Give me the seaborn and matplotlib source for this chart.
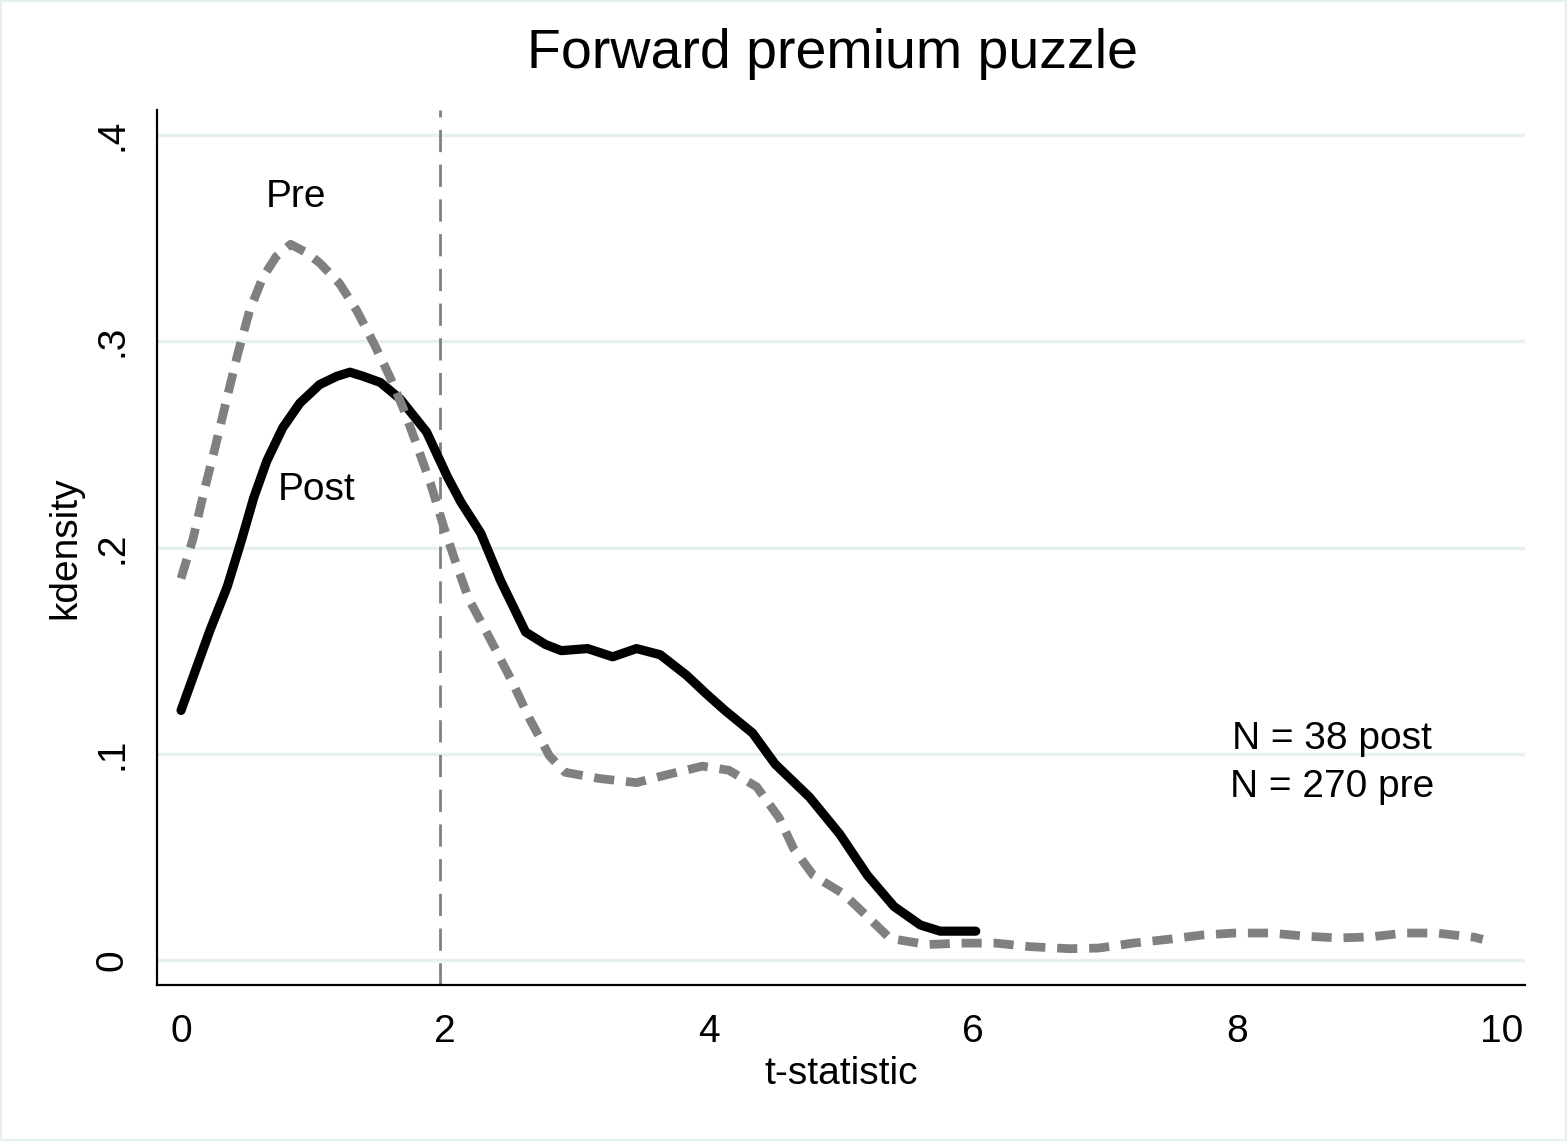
import matplotlib
matplotlib.use("Agg")
import matplotlib.pyplot as plt
import matplotlib.patches as mpatches
import numpy as np
import pandas as pd
import seaborn as sns

# Kernel density estimates of the t-statistic, post-sample (N = 38)
post_t = [0.00, 0.09, 0.22, 0.35, 0.46, 0.55, 0.65, 0.77, 0.90, 1.05, 1.18, 1.28,
          1.38, 1.51, 1.66, 1.86, 2.02, 2.12, 2.27, 2.42, 2.61, 2.76, 2.88, 3.08,
          3.27, 3.45, 3.63, 3.83, 3.98, 4.12, 4.33, 4.50, 4.76, 4.99, 5.20, 5.40,
          5.60, 5.75, 6.02]
post_density = [0.121, 0.137, 0.160, 0.181, 0.204, 0.224, 0.242, 0.258, 0.270, 0.279,
                0.283, 0.285, 0.283, 0.280, 0.272, 0.256, 0.234, 0.222, 0.207, 0.184,
                0.159, 0.153, 0.150, 0.151, 0.147, 0.151, 0.148, 0.138, 0.129, 0.121,
                0.110, 0.095, 0.079, 0.061, 0.041, 0.026, 0.017, 0.014, 0.014]

# Pre-sample (N = 270)
pre_t = [0.00, 0.09, 0.17, 0.26, 0.35, 0.43, 0.52, 0.62, 0.72, 0.83, 0.95, 1.05,
         1.20, 1.33, 1.46, 1.58, 1.68, 1.79, 1.89, 1.99, 2.09, 2.18, 2.33, 2.50,
         2.64, 2.79, 2.91, 3.17, 3.45, 3.69, 3.95, 4.15, 4.36, 4.53, 4.64, 4.79,
         5.02, 5.20, 5.37, 5.65, 5.91, 6.17, 6.43, 6.73, 6.95, 7.21, 7.47, 7.73,
         7.98, 8.25, 8.51, 8.77, 9.01, 9.27, 9.51, 9.80, 9.86]
pre_density = [0.185, 0.204, 0.226, 0.249, 0.273, 0.294, 0.315, 0.331, 0.341, 0.347,
               0.343, 0.338, 0.328, 0.315, 0.299, 0.283, 0.268, 0.249, 0.231, 0.210,
               0.191, 0.175, 0.157, 0.136, 0.117, 0.099, 0.091, 0.088, 0.086, 0.090,
               0.094, 0.092, 0.084, 0.069, 0.054, 0.041, 0.032, 0.021, 0.0105, 0.0075,
               0.0082, 0.0082, 0.0065, 0.0055, 0.0058, 0.0082, 0.0100, 0.0121, 0.0131,
               0.0131, 0.0116, 0.0107, 0.0112, 0.0131, 0.0131, 0.0110, 0.0100]

x_ticks = [0, 2, 4, 6, 8, 10]
y_ticks = [0, 0.1, 0.2, 0.3, 0.4]
y_tick_labels = ["0", ".1", ".2", ".3", ".4"]
critical_value = 1.96

post_df = pd.DataFrame({"t": post_t, "density": post_density})
pre_df = pd.DataFrame({"t": pre_t, "density": pre_density})

sns.set_theme(style="white")
plt.rcParams["font.family"] = ["Liberation Sans", "DejaVu Sans"]
plt.rcParams["text.color"] = "black"
plt.rcParams["axes.labelcolor"] = "black"
plt.rcParams["xtick.color"] = "black"
plt.rcParams["ytick.color"] = "black"

fig = plt.figure(figsize=(15.67, 11.41), dpi=100)
fig.patch.set_facecolor("white")
ax = fig.add_axes([157 / 1567, 1 - 985 / 1141, (1525 - 157) / 1567, (985 - 110) / 1141])
ax.set_facecolor("white")

grid_color = "#E6EFF1"
for yv in y_ticks:
    ax.axhline(yv, color=grid_color, lw=2.4, zorder=0.5)

ax.axvline(critical_value, color="#808080", lw=2.0,
           linestyle=(0, (8, 4.5)), zorder=1)

sns.lineplot(data=post_df, x="t", y="density", ax=ax, color="black",
             linewidth=6.6, sort=False, estimator=None,
             solid_capstyle="round", solid_joinstyle="round", zorder=3)
sns.lineplot(data=pre_df, x="t", y="density", ax=ax, color="#808080",
             linewidth=6.3, sort=False, estimator=None,
             linestyle=(0, (2.3, 1.35)), dash_capstyle="butt",
             dash_joinstyle="round", zorder=4)

ax.set_xlim(-0.182, 10.18)
ax.set_ylim(-0.0121, 0.4121)
ax.set_xticks(x_ticks)
ax.set_xticklabels([str(v) for v in x_ticks])
ax.set_yticks(y_ticks)
ax.set_yticklabels(y_tick_labels, rotation=90, va="center")

for side in ["top", "right"]:
    ax.spines[side].set_visible(False)
for side in ["left", "bottom"]:
    ax.spines[side].set_color("black")
    ax.spines[side].set_linewidth(1.6)

ax.tick_params(axis="both", direction="out", length=11, width=1.4,
               color="black", labelsize=28, labelcolor="black")
ax.tick_params(axis="x", pad=10)
ax.tick_params(axis="y", pad=8)

ax.set_xlabel("t-statistic", fontsize=28, labelpad=4, color="black")
ax.set_ylabel("kdensity", fontsize=28, labelpad=8, color="black")
ax.set_title("Forward premium puzzle", fontsize=40, pad=30, color="black", x=0.494)

ax.text(0.87, 0.370, "Pre", fontsize=28, ha="center", va="center", color="black")
ax.text(1.03, 0.228, "Post", fontsize=28, ha="center", va="center", color="black")
ax.text(8.72, 0.107, "N = 38 post", fontsize=28, ha="center", va="center", color="black")
ax.text(8.72, 0.084, "N = 270 pre", fontsize=28, ha="center", va="center", color="black")

fig.patches.append(mpatches.Rectangle((0, 0), 1, 1, transform=fig.transFigure,
                                      fill=False, edgecolor="#E6EFF1", lw=3))

fig.savefig("out.png", dpi=100, facecolor="white")
